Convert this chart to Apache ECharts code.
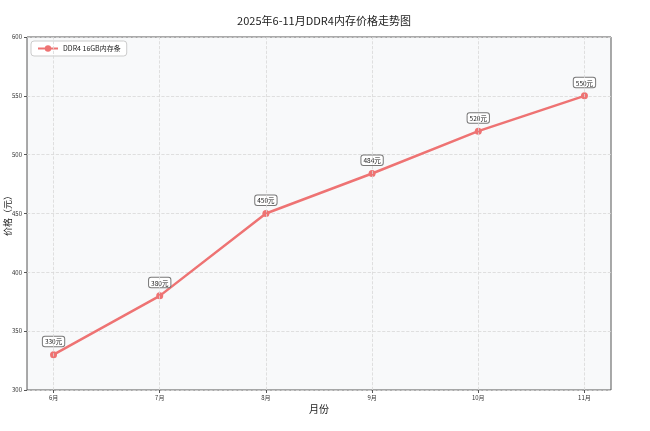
<!DOCTYPE html>
<html><head><meta charset="utf-8">
<script src="https://cdn.jsdelivr.net/npm/echarts@6/dist/echarts.min.js"></script>
<style>html,body{margin:0;padding:0;background:#fff}#c{width:650px;height:431px}</style>
</head><body><div id="c"></div>
<script>
const categories = ['6月','7月','8月','9月','10月','11月'];
const prices = [330, 380, 450, 484, 520, 550];
const yTicks = [300, 350, 400, 450, 500, 550, 600];
const seriesName = 'DDR4 16GB内存条';
const titleText = '2025年6-11月DDR4内存价格走势图';

const font = '"Noto Sans CJK SC", "DejaVu Sans", sans-serif';
const chart = echarts.init(document.getElementById('c'));
const data = prices.map((v, i) => [i, v]);
const catIdx = categories.map((c, i) => i);
chart.setOption({
  animation: false,
  backgroundColor: '#ffffff',
  textStyle: { fontFamily: font },
  title: {
    text: titleText, left: 319, top: 10, textAlign: 'center',
    textStyle: { fontSize: 11, fontWeight: 'normal', color: '#222', fontFamily: font }
  },
  legend: {
    left: 31, top: 41, orient: 'vertical',
    backgroundColor: '#fff', borderColor: '#ccc', borderWidth: 1, borderRadius: 3,
    padding: [4, 6], itemWidth: 20, itemHeight: 8,
    textStyle: { fontSize: 7, color: '#222', fontFamily: font },
    data: [seriesName]
  },
  grid: {
    left: 27, right: 39, top: 37, bottom: 41, show: true,
    outerBoundsMode: 'none', containLabel: false,
    backgroundColor: '#f8f9fa', borderColor: '#555', borderWidth: 1
  },
  xAxis: {
    type: 'value', min: -0.25, max: 5.25,
    name: '月份', nameLocation: 'middle', nameGap: 14, nameMoveOverlap: false,
    nameTextStyle: { fontSize: 10, color: '#222', fontFamily: font },
    axisLine: { show: false, onZero: false },
    axisLabel: {
      fontSize: 6, color: '#333', margin: 5,
      customValues: catIdx,
      formatter: v => categories[Math.round(v)] || ''
    },
    axisTick: { show: true, length: 3, lineStyle: { color: '#555' }, customValues: catIdx },
    splitLine: { show: false }
  },
  yAxis: {
    type: 'value', min: yTicks[0], max: yTicks[yTicks.length - 1], interval: 50,
    name: '价格（元）', nameLocation: 'middle', nameGap: 15, nameMoveOverlap: false,
    nameTextStyle: { fontSize: 9, color: '#222', fontFamily: font },
    axisLine: { show: false, onZero: false },
    axisTick: { show: true, length: 3, lineStyle: { color: '#555' } },
    axisLabel: { fontSize: 6, color: '#333', margin: 5 },
    splitLine: { show: true, lineStyle: { color: '#d8d8d8', type: 'dashed', width: 0.8 } }
  },
  series: [
    {
      type: 'line', name: seriesName, data: data,
      lineStyle: { color: '#ee7373', width: 2.5 },
      itemStyle: { color: '#ee7373' },
      symbol: 'circle', symbolSize: 7,
      label: {
        show: true, position: 'top', distance: 5,
        formatter: p => p.value[1] + '元',
        fontSize: 6.5, color: '#222', fontFamily: font,
        backgroundColor: '#fff', borderColor: '#777', borderWidth: 1, borderRadius: 2,
        padding: [2, 2, 1, 2]
      },
      z: 3
    },
    {
      type: 'line', data: [], silent: true,
      markLine: {
        silent: true, symbol: 'none', label: { show: false },
        lineStyle: { color: '#d8d8d8', type: 'dashed', width: 0.8 },
        data: catIdx.map(i => ({ xAxis: i }))
      }
    }
  ]
});
</script></body></html>
